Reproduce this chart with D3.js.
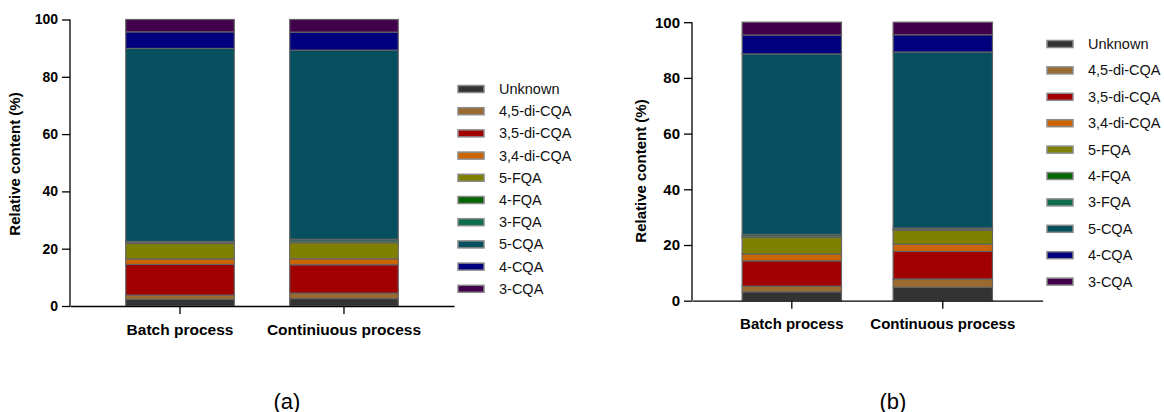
<!DOCTYPE html>
<html><head><meta charset="utf-8">
<script src="https://cdn.jsdelivr.net/npm/d3@7"></script>
<style>
html,body{margin:0;padding:0;background:#fff;}
svg{display:block;font-family:Arial,"Liberation Sans",sans-serif;}
</style></head>
<body>
<svg id="chart" width="1164" height="412"></svg>
<script>
const seriesNames = ["Unknown","4,5-di-CQA","3,5-di-CQA","3,4-di-CQA","5-FQA","4-FQA","3-FQA","5-CQA","4-CQA","3-CQA"];
const seriesColors = ["#333333","#9a6a2e","#a00000","#cc6400","#808000","#006400","#0e6e4e","#054f5f","#00007f","#42004c"];
const categoriesA = ["Batch process","Continiuous process"];
const categoriesB = ["Batch process","Continuous process"];
const batchA = [2.3,1.5,10.7,1.9,5.4,0.3,0.4,67.4,5.8,4.3];
const contA  = [2.6,1.9,9.9,2.1,5.6,0.5,0.7,66.0,6.3,4.4];
const batchB = [3.2,2.0,9.1,2.5,5.9,0.5,0.6,64.8,6.8,4.6];
const contB  = [4.8,3.0,9.9,2.6,5.0,0.3,0.5,63.2,6.2,4.5];
const yTicks = [0,20,40,60,80,100];
const yTitle = "Relative content (%)";
const panelLabels = ["(a)","(b)"];

const svg = d3.select("#chart");

function panel(cfg){
  const g = svg.append("g");
  const y = d3.scaleLinear().domain([0,100]).range([cfg.y0, cfg.y100]);
  const x = d3.scaleBand().domain(cfg.cats).range([cfg.x0, cfg.x1])
    .paddingInner(cfg.pi).paddingOuter(cfg.po);
  const rows = cfg.cats.map((c,i)=>{
    const o = {cat:c};
    seriesNames.forEach((s,j)=>{ o[s] = cfg.vals[i][j]; });
    return o;
  });
  const stack = d3.stack().keys(seriesNames)(rows);
  stack.forEach((layer,j)=>{
    g.selectAll(null).data(layer).enter().append("rect")
      .attr("x", d=>x(d.data.cat))
      .attr("width", x.bandwidth())
      .attr("y", d=>y(d[1]))
      .attr("height", d=>Math.max(0, y(d[0])-y(d[1])))
      .attr("fill", seriesColors[j])
      .attr("stroke", "#646464")
      .attr("stroke-width", 1.2);
  });
  // y axis
  const ya = g.append("g").attr("transform",`translate(${cfg.x0},0)`)
    .call(d3.axisLeft(y).tickValues(yTicks).tickSize(8).tickPadding(4));
  ya.selectAll("text").attr("font-size", cfg.tickFont).attr("font-weight","bold")
    .attr("fill","#000").attr("font-family","Arial, Liberation Sans, sans-serif");
  ya.select(".domain").attr("d", `M-0,${cfg.y100}V${cfg.y0}`);
  ya.selectAll("path,line").attr("stroke","#000").attr("stroke-width",1.3);
  // x axis
  const xa = g.append("g").attr("transform",`translate(0,${cfg.y0})`)
    .call(d3.axisBottom(x).tickSize(8).tickPadding(10).tickSizeOuter(0));
  xa.selectAll("text").attr("font-size", cfg.xFont).attr("font-weight","bold")
    .attr("fill","#000").attr("font-family","Arial, Liberation Sans, sans-serif");
  xa.selectAll("path,line").attr("stroke","#000").attr("stroke-width",1.3);
  // y title
  g.append("text").attr("transform",`translate(${cfg.titleX},${cfg.titleY}) rotate(-90)`)
    .attr("text-anchor","middle").attr("dominant-baseline","middle")
    .attr("font-size",15).attr("font-weight","bold").text(yTitle);
  // legend
  const lg = g.append("g");
  seriesNames.forEach((s,j)=>{
    const cy = cfg.legY + j*cfg.legStep;
    lg.append("rect").attr("x",cfg.legX).attr("y",cy-3.5).attr("width",26).attr("height",7)
      .attr("fill",seriesColors[j]).attr("stroke","#8a8a8a").attr("stroke-width",1.5);
    lg.append("text").attr("x",cfg.legX+41).attr("y",cy).attr("dominant-baseline","central")
      .attr("font-size",cfg.legFont).attr("fill","#111").text(s);
  });
  // panel label
  g.append("text").attr("x",cfg.labX).attr("y",cfg.labY).attr("text-anchor","middle")
    .attr("dominant-baseline","central").attr("font-size",22).text(cfg.label);
}

panel({cats:categoriesA, vals:[batchA, contA], x0:70, x1:454, y0:306, y100:19.5,
  pi:0.338, po:0.34, tickFont:14, xFont:15.5, titleX:16, titleY:164,
  legX:458, legY:89, legStep:22.2, legFont:14.5, labX:287, labY:401, label:panelLabels[0]});
panel({cats:categoriesB, vals:[batchB, contB], x0:692, x1:1042.6, y0:300.7, y100:22.2,
  pi:0.342, po:0.332, tickFont:15, xFont:15, titleX:642, titleY:171,
  legX:1047, legY:44, legStep:26.4, legFont:14.5, labX:893, labY:401, label:panelLabels[1]});
</script>
</body></html>
